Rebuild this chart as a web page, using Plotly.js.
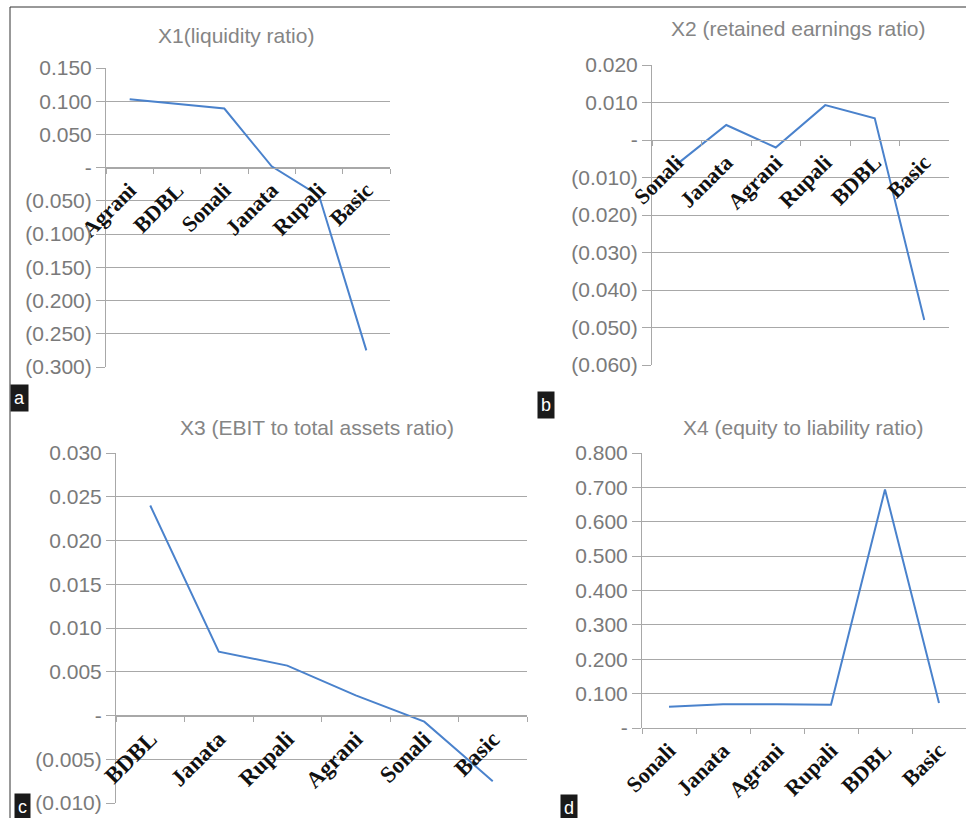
<!DOCTYPE html>
<html><head><meta charset="utf-8">
<script src="https://cdn.plot.ly/plotly-3.0.1.min.js"></script>
<style>html,body{margin:0;padding:0;background:#fff}#chart{width:966px;height:818px}</style>
</head><body><div id="chart"></div>
<script>
// ---- data ----
const catsX1 = ['Agrani','BDBL','Sonali','Janata','Rupali','Basic'];
const valsX1 = [0.103, 0.096, 0.089, 0.002, -0.042, -0.275];
const catsX2 = ['Sonali','Janata','Agrani','Rupali','BDBL','Basic'];
const valsX2 = [-0.0065, 0.004, -0.002, 0.0093, 0.0058, -0.048];
const catsX3 = ['BDBL','Janata','Rupali','Agrani','Sonali','Basic'];
const valsX3 = [0.024, 0.0073, 0.0057, 0.0023, -0.0007, -0.0075];
const catsX4 = ['Sonali','Janata','Agrani','Rupali','BDBL','Basic'];
const valsX4 = [0.062, 0.069, 0.069, 0.068, 0.694, 0.073];

const tickValsX1 = [0.15,0.1,0.05,0,-0.05,-0.1,-0.15,-0.2,-0.25,-0.3];
const tickTextX1 = ['0.150','0.100','0.050','-','(0.050)','(0.100)','(0.150)','(0.200)','(0.250)','(0.300)'];
const tickValsX2 = [0.02,0.01,0,-0.01,-0.02,-0.03,-0.04,-0.05,-0.06];
const tickTextX2 = ['0.020','0.010','-','(0.010)','(0.020)','(0.030)','(0.040)','(0.050)','(0.060)'];
const tickValsX3 = [0.03,0.025,0.02,0.015,0.01,0.005,0,-0.005,-0.01];
const tickTextX3 = ['0.030','0.025','0.020','0.015','0.010','0.005','-','(0.005)','(0.010)'];
const tickValsX4 = [0.8,0.7,0.6,0.5,0.4,0.3,0.2,0.1,0];
const tickTextX4 = ['0.800','0.700','0.600','0.500','0.400','0.300','0.200','0.100','-'];

const titles = ['X1(liquidity ratio)','X2 (retained earnings ratio)','X3 (EBIT to total assets ratio)','X4 (equity to liability ratio)'];
const tags = ['a','b','c','d'];

// ---- layout helpers ----
const W = 966, H = 818;
const fx = p => p / W;
const fy = p => 1 - p / H;

const panels = [
  {cats: catsX1, vals: valsX1, tv: tickValsX1, tt: tickTextX1, px: [106,390], py: [68,367], yr: [-0.3,0.15], lab: 22, title: [236,36], tag: [19,398]},
  {cats: catsX2, vals: valsX2, tv: tickValsX2, tt: tickTextX2, px: [652,949], py: [65,365], yr: [-0.06,0.02], lab: 22, title: [798,28], tag: [546,405]},
  {cats: catsX3, vals: valsX3, tv: tickValsX3, tt: tickTextX3, px: [116,527], py: [453,803], yr: [-0.01,0.03], lab: 23, title: [317,427], tag: [22,807]},
  {cats: catsX4, vals: valsX4, tv: tickValsX4, tt: tickTextX4, px: [642,966], py: [453,728], yr: [0,0.8], lab: 22, title: [803,427], tag: [569,808]}
];

const grey = '#a8a8a8';
const traces = [];
const layout = {
  width: W, height: H,
  margin: {l:0, r:0, t:0, b:0},
  paper_bgcolor: '#fff', plot_bgcolor: 'rgba(0,0,0,0)',
  showlegend: false,
  annotations: [],
  shapes: [{type:'rect', xref:'paper', yref:'paper', x0: fx(10), x1: 1.01, y0: -0.01, y1: fy(7), line:{color:'#333', width:1}}]
};

panels.forEach((p, i) => {
  const n = i === 0 ? '' : String(i + 1);
  traces.push({
    type: 'scatter', mode: 'lines', x: p.cats, y: p.vals,
    xaxis: 'x' + n, yaxis: 'y' + n,
    line: {color: '#4a82cc', width: 2}, hoverinfo: 'skip'
  });
  const ydom = [fy(p.py[1]), fy(p.py[0])];
  const zeroPos = ydom[0] + (0 - p.yr[0]) / (p.yr[1] - p.yr[0]) * (ydom[1] - ydom[0]);
  layout['xaxis' + n] = {
    domain: [fx(p.px[0]), fx(p.px[1])],
    anchor: 'free', position: zeroPos,
    type: 'category', range: [-0.5, p.cats.length - 0.5],
    showgrid: false, zeroline: false,
    showline: true, linecolor: grey, linewidth: 1,
    ticks: 'outside', tickson: 'boundaries', ticklen: 5, tickcolor: grey,
    tickangle: -45,
    tickfont: {family: 'Liberation Serif, Times New Roman, serif', size: p.lab, color: '#111', weight: 'bold'},
    automargin: false, fixedrange: true
  };
  layout['yaxis' + n] = {
    domain: ydom, anchor: 'x' + n,
    range: p.yr, tickmode: 'array', tickvals: p.tv, ticktext: p.tt,
    showgrid: true, gridcolor: grey, gridwidth: 1,
    zeroline: false, showline: true, linecolor: grey, linewidth: 1,
    ticks: 'outside', ticklen: 9, tickcolor: grey,
    tickfont: {family: 'Liberation Sans, Arial, sans-serif', size: 21, color: '#7a7a7a'},
    automargin: false, fixedrange: true
  };
  layout.annotations.push({
    xref: 'paper', yref: 'paper', x: fx(p.title[0]), y: fy(p.title[1]),
    xanchor: 'center', yanchor: 'middle', showarrow: false, text: titles[i],
    font: {family: 'Liberation Sans, Arial, sans-serif', size: 21, color: '#858585'}
  });
  layout.annotations.push({
    xref: 'paper', yref: 'paper', x: fx(p.tag[0]), y: fy(p.tag[1]),
    xanchor: 'center', yanchor: 'middle', showarrow: false, text: tags[i],
    bgcolor: '#1a1a1a', borderpad: 3,
    font: {family: 'Liberation Sans, Arial, sans-serif', size: 18, color: '#fff'}
  });
});

Plotly.newPlot('chart', traces, layout, {displayModeBar: false, staticPlot: true});
</script></body></html>
